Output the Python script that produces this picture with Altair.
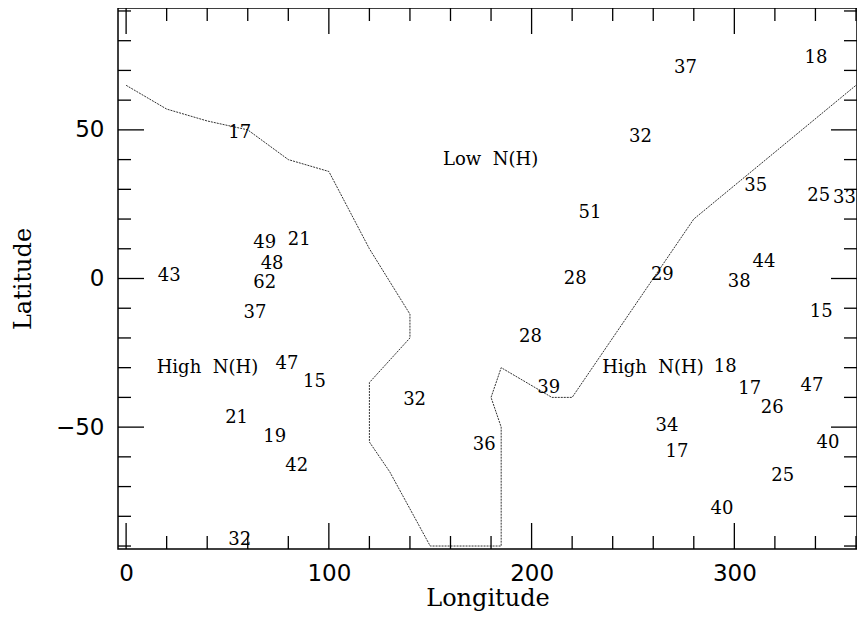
import altair as alt
import pandas as pd

# Number labels (longitude, latitude, value)
lon = [56.0, 68.4, 85.4, 72.0, 68.4, 21.3, 63.6, 79.3, 92.9, 142.3, 54.5, 73.3, 84.2, 56.0,
       275.9, 340.3, 253.7, 310.5, 341.6, 354.3, 228.8, 314.6, 221.5, 264.5, 302.4, 342.9,
       199.4, 295.5, 208.4, 307.6, 338.3, 318.7, 266.8, 176.6, 346.2, 271.7, 323.9, 293.9]
lat = [48.9, 11.8, 13.1, 4.8, -1.6, 0.9, -11.5, -28.6, -34.7, -41.0, -46.9, -53.3, -63.2, -88.0,
       70.9, 74.2, 47.6, 31.1, 27.6, 27.0, 22.0, 5.6, -0.2, 1.1, -1.3, -11.3,
       -19.7, -29.7, -36.9, -37.1, -36.3, -43.6, -49.7, -56.0, -55.2, -58.3, -66.3, -77.4]
val = [17, 49, 21, 48, 62, 43, 37, 47, 15, 32, 21, 19, 42, 32,
       37, 18, 32, 35, 25, 33, 51, 44, 28, 29, 38, 15,
       28, 18, 39, 17, 47, 26, 34, 36, 40, 17, 25, 40]

# Boundary line
bnd_lon = [0, 20, 40, 60, 80, 100, 120, 140, 140, 120, 120, 130, 150, 185, 185, 180, 185, 210, 220, 280, 360]
bnd_lat = [65, 57, 53, 50, 40, 36, 10, -12, -20, -35, -55, -65, -90, -90, -50, -40, -30, -40, -40, 20, 65]

# Region labels
reg_text = ["Low\u00a0 N(H)", "High\u00a0 N(H)", "High\u00a0 N(H)"]
reg_lon = [179.8, 40.1, 259.9]
reg_lat = [39.8, -30.0, -30.0]

# Tick values
xt_major = [0, 100, 200, 300]
xt_minor = [20, 40, 60, 80, 120, 140, 160, 180, 220, 240, 260, 280, 320, 340, 360]
yt_major = [-50, 0, 50]
yt_minor = [-90, -80, -70, -60, -40, -30, -20, -10, 10, 20, 30, 40, 60, 70, 80, 90]

W, H = 739, 541
MAJ, MIN = 26, 13

pts = pd.DataFrame({"lon": lon, "lat": lat, "val": [str(v) for v in val]})
bnd = pd.DataFrame({"lon": bnd_lon, "lat": bnd_lat, "order": list(range(len(bnd_lon)))})
reg = pd.DataFrame({"lon": reg_lon, "lat": reg_lat, "txt": reg_text})

xscale = alt.Scale(domain=[-4, 360.5], nice=False, zero=False)
yscale = alt.Scale(domain=[-91, 91], nice=False, zero=False)

xaxis = alt.Axis(values=xt_major, labelFont="DejaVu Sans", labelFontSize=23, labelPadding=13,
                 labelColor="black", titleFont="DejaVu Serif", titleFontSize=24,
                 titleFontWeight="normal", titleColor="black", titleX=W / 2, titleY=49,
                 titleBaseline="middle", titleAlign="center")
yaxis = alt.Axis(values=yt_major, labelFont="DejaVu Sans", labelFontSize=23, labelPadding=14,
                 labelColor="black", titleFont="DejaVu Serif", titleFontSize=24,
                 titleFontWeight="normal", titleColor="black", titleX=-95, titleY=H / 2,
                 titleBaseline="middle", titleAlign="center", titleAngle=-90)


def X(field):
    return alt.X(f"{field}:Q", scale=xscale, axis=xaxis, title="Longitude")


def Y(field):
    return alt.Y(f"{field}:Q", scale=yscale, axis=yaxis, title="Latitude")


texts = alt.Chart(pts).mark_text(font="DejaVu Serif", fontSize=18, color="black",
                                 align="center", baseline="middle").encode(
    x=X("lon"), y=Y("lat"), text="val:N")

regions = alt.Chart(reg).mark_text(font="DejaVu Serif", fontSize=18, color="black",
                                   align="center", baseline="middle").encode(
    x=X("lon"), y=Y("lat"), text="txt:N")

line = alt.Chart(bnd).mark_line(color="#333333", strokeWidth=1, strokeDash=[2, 1]).encode(
    x=X("lon"), y=Y("lat"), order="order:Q")

layers = [line, texts, regions]


def xticks(vals, ln):
    d = pd.DataFrame({"t": vals})
    bot = alt.Chart(d).mark_rule(color="black", strokeWidth=1.3).encode(
        x=X("t"), y=alt.value(H), y2=alt.value(H - ln))
    top = alt.Chart(d).mark_rule(color="black", strokeWidth=1.3).encode(
        x=X("t"), y=alt.value(0), y2=alt.value(ln))
    return [bot, top]


def yticks(vals, ln):
    d = pd.DataFrame({"t": vals})
    left = alt.Chart(d).mark_rule(color="black", strokeWidth=1.3).encode(
        y=Y("t"), x=alt.value(0), x2=alt.value(ln))
    right = alt.Chart(d).mark_rule(color="black", strokeWidth=1.3).encode(
        y=Y("t"), x=alt.value(W), x2=alt.value(W - ln))
    return [left, right]


layers += xticks(xt_major, MAJ) + xticks(xt_minor, MIN) + yticks(yt_major, MAJ) + yticks(yt_minor, MIN)

chart = alt.layer(*layers).properties(
    width=W, height=H,
    autosize=alt.AutoSizeParams(type="none"),
    padding={"left": 110, "top": 0, "right": 0, "bottom": 62},
    background="white",
).configure_view(stroke="black", strokeWidth=1.5).configure_axis(
    grid=False, ticks=False, domain=False)

chart.save("out.html", embed_options={"renderer": "svg", "actions": False})
